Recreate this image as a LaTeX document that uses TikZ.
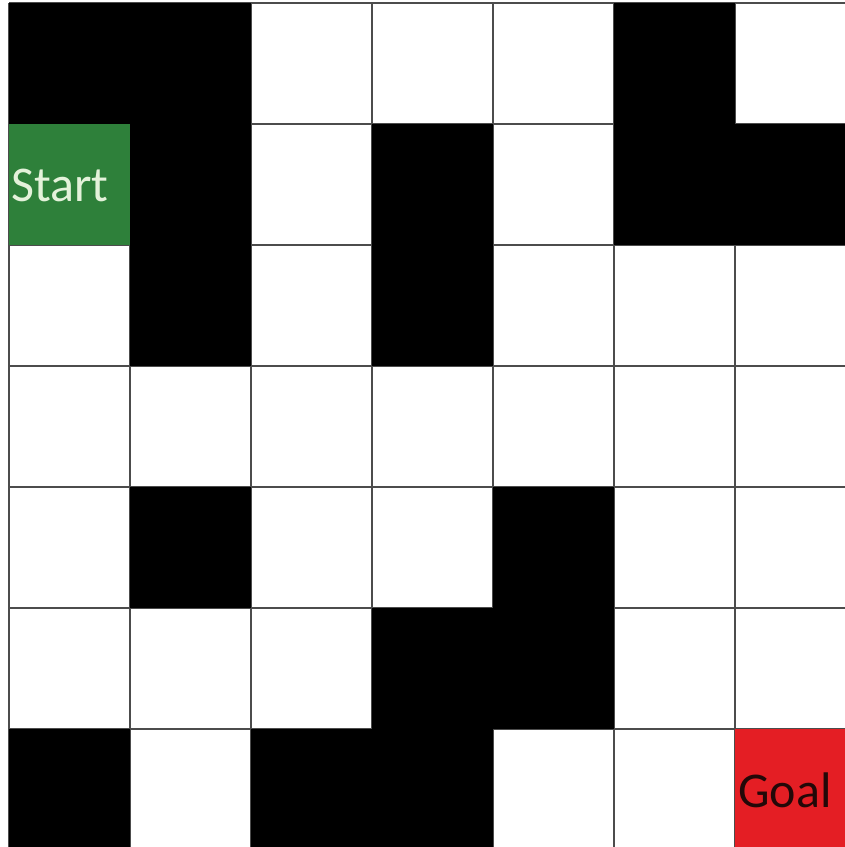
\documentclass[tikz,border=0pt]{standalone}
\usepackage{fontspec}
\setmainfont{Carlito}
\definecolor{startgreen}{RGB}{46,128,58}
\definecolor{goalred}{RGB}{228,30,36}
\definecolor{starttext}{RGB}{228,242,218}
\definecolor{goaltext}{RGB}{35,8,8}
\begin{document}
\begin{tikzpicture}[x=1pt,y=-1pt,
  gridline/.style={draw=black!70,line width=1.6pt},
  wall/.style={fill=black},
  label/.style={font=\fontsize{50}{54}\selectfont,inner sep=0pt}]
\useasboundingbox (0,0) rectangle (845,847);
\clip (0,0) rectangle (845,847);
\fill[white] (0,0) rectangle (845,847);
% grid lines
\foreach \i in {0,...,7} {
  \draw[gridline] (9+\i*121,3) -- (9+\i*121,860);
  \draw[gridline] (9,3+\i*121) -- (860,3+\i*121);
}
% walls (col/row)
\foreach \c/\r in {0/0,1/0,5/0,1/1,3/1,5/1,6/1,1/2,3/2,1/4,4/4,3/5,4/5,0/6,2/6,3/6}
  \fill[wall] (9+\c*121,3+\r*121) rectangle ++(121,121);
% start and goal cells
\fill[startgreen] (9,124) rectangle ++(121,121);
\fill[goalred] (735,729) rectangle ++(121,121);
\node[label,text=starttext,anchor=west] (start) at (11,185) {Start};
\node[label,text=goaltext] (goal) at (785,790) {Goal};
\end{tikzpicture}
\end{document}
